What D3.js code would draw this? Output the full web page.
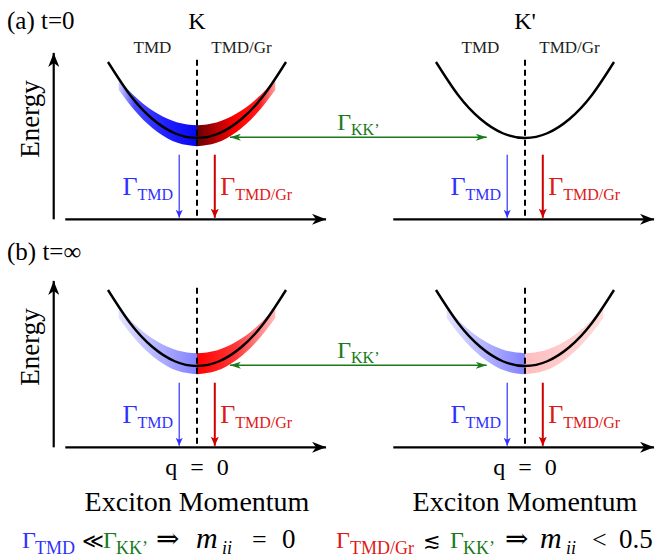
<!DOCTYPE html>
<html>
<head>
<meta charset="utf-8">
<script src="https://cdn.jsdelivr.net/npm/d3@7"></script>
<style>
  body { margin: 0; background: #fff; }
  svg text { white-space: pre; font-family: "Liberation Serif", "DejaVu Serif", serif; }
</style>
</head>
<body>
<svg id="chart" width="656" height="557"></svg>
<script>
// exciton dispersion (q in units of half-width, E in units of depth)
const qValues = [-1, -0.75, -0.5, -0.25, 0, 0.25, 0.5, 0.75, 1]
const energyValues = [1, 0.5625, 0.25, 0.0625, 0, 0.0625, 0.25, 0.5625, 1]
// occupation band round the minimum (left half TMD, right half TMD/Gr)
const bandQLeft = [-0.88, -0.66, -0.44, -0.22, 0]
const bandQRight = [0, 0.22, 0.44, 0.66, 0.88]
const bandTopLeft = [0.771, 0.507, 0.318, 0.205, 0.167]
const bandBottomLeft = [0.633, 0.308, 0.076, -0.064, -0.11]
const bandTopRight = [0.167, 0.205, 0.318, 0.507, 0.771]
const bandBottomRight = [-0.11, -0.064, 0.076, 0.308, 0.633]

const rowLabels = ['(a) t=0', '(b) t=∞']
const valleyLabels = ['K', "K'"]
const sideLabels = ['TMD', 'TMD/Gr']
const axisLabel = 'Energy'
const qLabel = 'q = 0'
const momentumLabel = 'Exciton Momentum'
const leftRegime = ['Γ', 'TMD', '≪', 'Γ', 'KK’', '⇒', 'm', 'ii', '=', '0']
const rightRegime = ['Γ', 'TMD/Gr', '≲', 'Γ', 'KK’', '⇒', 'm', 'ii', '<', '0.5']

const blue = '#3030ff', red = '#d00000', redText = '#e01818', green = '#1a7a1a'

const colCenter = [197, 525]
const rowBase = [138, 366]
const halfW = 89, depth = 76

const svg = d3.select('#chart')
const defs = svg.append('defs')

function addMarker(id, color, len, hw, notch) {
  defs.append('marker')
    .attr('id', id)
    .attr('viewBox', `${-len} ${-hw} ${len + 1} ${2 * hw}`)
    .attr('refX', 0).attr('refY', 0)
    .attr('markerUnits', 'userSpaceOnUse')
    .attr('markerWidth', len + 1).attr('markerHeight', 2 * hw)
    .attr('orient', 'auto-start-reverse')
    .append('path')
    .attr('d', `M0,0 L${-len},${-hw} L${-len + notch},0 L${-len},${hw} Z`)
    .attr('fill', color)
}
addMarker('ah-black', '#000', 14, 5.5, 4)
addMarker('ah-blue', blue, 8, 3.5, 2)
addMarker('ah-red', red, 9, 4, 2)
addMarker('ah-green', green, 11, 3.5, 3)

function addGradient(id, x0, x1, stops) {
  const g = defs.append('linearGradient')
    .attr('id', id)
    .attr('gradientUnits', 'userSpaceOnUse')
    .attr('x1', x0).attr('x2', x1).attr('y1', 0).attr('y2', 0)
  stops.forEach(s => g.append('stop').attr('offset', s[0]).attr('stop-color', s[1]))
}

// band colouring per panel [row][col]
const bandStyles = [
  [{ left: [[0, '#cfcfff'], [0.2, '#4a4aff'], [0.6, '#2020ff'], [1, '#0808ee']],
     right: [[0, '#680000'], [0.5, '#ff0000'], [0.8, '#ff1a1a'], [1, '#ffa0a0']] },
   null],
  [{ left: [[0, '#e2e2ff'], [1, '#8282ff']],
     right: [[0, '#ff0000'], [0.5, '#ff3838'], [1, '#ffbcbc']] },
   { left: [[0, '#e2e2ff'], [1, '#8282ff']],
     right: [[0, '#ffbdbd'], [1, '#ffdcdc']] }]
]

function scales(r, c) {
  const x = d3.scaleLinear().domain([-1, 1]).range([colCenter[c] - halfW, colCenter[c] + halfW])
  const y = d3.scaleLinear().domain([0, 1]).range([rowBase[r], rowBase[r] - depth])
  return { x, y }
}

function richText(g, x, y, anchor, size, subSize, parts, shift = 5) {
  const t = g.append('text').attr('x', x).attr('y', y)
    .attr('text-anchor', anchor).attr('font-size', size)
  let shifted = false
  parts.forEach(p => {
    const ts = t.append('tspan').text(p.t).attr('fill', p.c || '#000')
    if (p.x !== undefined) ts.attr('x', p.x)
    if (p.size) ts.attr('font-size', p.size)
    if (p.it) ts.attr('font-style', 'italic')
    if (p.sub) {
      ts.attr('font-size', subSize)
      if (!shifted) { ts.attr('dy', shift); shifted = true }
    } else if (shifted) { ts.attr('dy', -shift); shifted = false }
  })
  return t
}

const line = (x, y) => d3.line().x(d => x(d[0])).y(d => y(d[1])).curve(d3.curveNatural)

rowLabels.forEach((rowLabel, r) => {
  valleyLabels.forEach((valley, c) => {
    const { x, y } = scales(r, c)
    const g = svg.append('g')

    // band
    const st = bandStyles[r][c]
    if (st) {
      addGradient(`gl${r}${c}`, x(bandQLeft[0]), x(0), st.left)
      addGradient(`gr${r}${c}`, x(0), x(bandQRight[bandQRight.length - 1]), st.right)
      const area = d3.area().x(d => x(d[0])).y0(d => y(d[2])).y1(d => y(d[1])).curve(d3.curveNatural)
      g.append('path')
        .attr('d', area(bandQLeft.map((q, i) => [q, bandTopLeft[i], bandBottomLeft[i]])))
        .attr('fill', `url(#gl${r}${c})`)
      g.append('path')
        .attr('d', area(bandQRight.map((q, i) => [q, bandTopRight[i], bandBottomRight[i]])))
        .attr('fill', `url(#gr${r}${c})`)
    }

    // dispersion
    g.append('path')
      .attr('d', line(x, y)(qValues.map((q, i) => [q, energyValues[i]])))
      .attr('fill', 'none').attr('stroke', '#000').attr('stroke-width', 2.4)

    // dashed q = 0 line
    g.append('line')
      .attr('x1', x(0)).attr('x2', x(0)).attr('y1', y(1.03)).attr('y2', y(-1.07))
      .attr('stroke', '#000').attr('stroke-width', 2).attr('stroke-dasharray', '6,4')

    // momentum axis
    g.append('line')
      .attr('x1', x(-1.48)).attr('x2', x(1.45)).attr('y1', y(-1.07)).attr('y2', y(-1.07))
      .attr('stroke', '#000').attr('stroke-width', 2.2).attr('marker-end', 'url(#ah-black)')

    // decay arrows
    g.append('line')
      .attr('x1', x(-0.2)).attr('x2', x(-0.2)).attr('y1', y(-0.22)).attr('y2', y(-1.05))
      .attr('stroke', blue).attr('stroke-width', 1.2).attr('marker-end', 'url(#ah-blue)')
    g.append('line')
      .attr('x1', x(0.2)).attr('x2', x(0.2)).attr('y1', y(-0.22)).attr('y2', y(-1.05))
      .attr('stroke', red).attr('stroke-width', 2).attr('marker-end', 'url(#ah-red)')

    richText(g, x(-0.27), y(-0.75), 'end', 26, 16,
      [{ t: 'Γ', c: blue }, { t: 'TMD', c: blue, sub: 1 }])
    richText(g, x(0.26), y(-0.75), 'start', 26, 16,
      [{ t: 'Γ', c: redText }, { t: 'TMD/Gr', c: redText, sub: 1 }])

    if (r === 0) {
      g.append('text').attr('x', x(0)).attr('y', 29).attr('text-anchor', 'middle')
        .attr('font-size', 24).text(valley)
      sideLabels.forEach((s, i) => {
        g.append('text').attr('x', x(i === 0 ? -0.5 : 0.5)).attr('y', 53)
          .attr('text-anchor', 'middle').attr('font-size', 17).attr('fill', '#222').text(s)
      })
    } else {
      g.append('text').attr('x', x(0)).attr('y', 475).attr('text-anchor', 'middle')
        .attr('font-size', 24).attr('word-spacing', 7).text(qLabel)
      g.append('text').attr('x', x(0)).attr('y', 511).attr('text-anchor', 'middle')
        .attr('font-size', 28).text(momentumLabel)
    }

    if (c === 0) {
      // energy axis
      g.append('line')
        .attr('x1', x(-1.61)).attr('x2', x(-1.61)).attr('y1', y(-1.07)).attr('y2', y(1.12))
        .attr('stroke', '#000').attr('stroke-width', 2.2).attr('marker-end', 'url(#ah-black)')
      g.append('text')
        .attr('transform', `translate(39,${y(0.25)}) rotate(-90)`)
        .attr('text-anchor', 'middle').attr('font-size', 27).text(axisLabel)
      g.append('text').attr('x', 7).attr('y', rowBase[r] - 109 + r * 3)
        .attr('font-size', 25).text(rowLabel)
    }
  })

  // inter-valley scattering arrow
  const a = scales(r, 0), b = scales(r, 1)
  const xs = a.x(0.37), xe = b.x(-0.43), yy = a.y(0.01)
  svg.append('line')
    .attr('x1', xs).attr('x2', xe).attr('y1', yy).attr('y2', yy)
    .attr('stroke', green).attr('stroke-width', 1.6)
    .attr('marker-start', 'url(#ah-green)').attr('marker-end', 'url(#ah-green)')
  richText(svg, (xs + xe) / 2, yy - 7, 'middle', 24, 16,
    [{ t: 'Γ', c: green }, { t: 'KK’', c: green, sub: 1 }])
})

// regime summary: glyph start positions and styles
const leftPos = [22, 35, 82, 103, 116, 156, 196, 222, 252, 282]
const rightPos = [336, 350, 423, 450, 463, 505, 540, 566, 592, 619]
const regimeStyle = [
  { c: null }, { sub: 1 }, { c: '#000', size: 21 }, { c: green }, { c: green, sub: 1 },
  { c: '#000', size: 28 }, { c: '#000', it: 1, size: 30 }, { c: '#000', it: 1, sub: 1 },
  { c: '#000', size: 26 }, { c: '#000', size: 27 }
]
function regime(labels, pos, color) {
  return labels.map((t, i) => {
    const s = regimeStyle[i]
    return { t, x: pos[i], c: s.c || color, sub: s.sub, it: s.it, size: s.size }
  })
}
richText(svg, 22, 548, 'start', 24, 18, regime(leftRegime, leftPos, blue), 6)
richText(svg, 336, 548, 'start', 24, 18, regime(rightRegime, rightPos, redText), 6)
</script>
</body>
</html>
